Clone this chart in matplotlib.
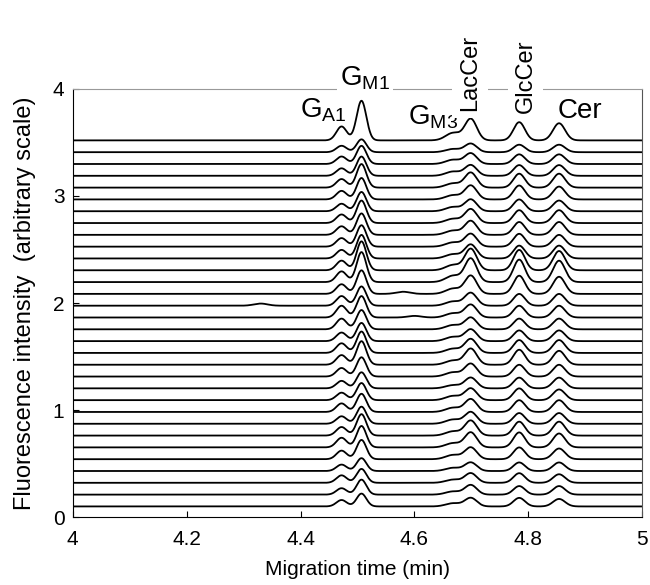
import matplotlib.pyplot as plt
import numpy as np

plt.rcParams['font.family'] = ['Liberation Sans', 'DejaVu Sans']
plt.rcParams['mathtext.fontset'] = 'custom'
plt.rcParams['mathtext.rm'] = 'Liberation Sans'
plt.rcParams['mathtext.it'] = 'Liberation Sans'

# peak centres (min): GA1, GM1, GM3, LacCer, GlcCer, Cer
peak_pos = [4.472, 4.507, 4.668, 4.699, 4.784, 4.854]
peak_sigma = [0.009, 0.0085, 0.013, 0.0105, 0.010, 0.0105]

# peak heights for each trace, bottom trace first
h_ga1 = [0.06, 0.06, 0.07, 0.06, 0.08, 0.09, 0.08, 0.07, 0.08, 0.07, 0.07,
         0.08, 0.09, 0.09, 0.08, 0.10, 0.11, 0.09, 0.09, 0.10, 0.09, 0.08,
         0.08, 0.08, 0.08, 0.07, 0.08, 0.08, 0.07, 0.07, 0.06, 0.13]
h_gm1 = [0.12, 0.14, 0.13, 0.12, 0.18, 0.20, 0.20, 0.16, 0.17, 0.16, 0.15,
         0.18, 0.22, 0.20, 0.17, 0.18, 0.20, 0.18, 0.22, 0.28, 0.27, 0.22,
         0.20, 0.20, 0.21, 0.18, 0.20, 0.22, 0.18, 0.17, 0.12, 0.37]
h_gm3 = [0.03, 0.03, 0.03, 0.03, 0.04, 0.04, 0.04, 0.04, 0.04, 0.04, 0.03,
         0.04, 0.04, 0.04, 0.04, 0.04, 0.04, 0.04, 0.05, 0.06, 0.05, 0.04,
         0.04, 0.04, 0.04, 0.04, 0.04, 0.04, 0.04, 0.04, 0.03, 0.07]
h_lac = [0.08, 0.09, 0.09, 0.08, 0.11, 0.14, 0.14, 0.11, 0.12, 0.11, 0.10,
         0.12, 0.15, 0.13, 0.11, 0.11, 0.12, 0.12, 0.17, 0.22, 0.20, 0.13,
         0.12, 0.13, 0.13, 0.11, 0.13, 0.14, 0.10, 0.10, 0.08, 0.20]
h_glc = [0.08, 0.08, 0.09, 0.08, 0.11, 0.14, 0.13, 0.10, 0.11, 0.11, 0.10,
         0.11, 0.14, 0.12, 0.10, 0.10, 0.11, 0.11, 0.17, 0.21, 0.19, 0.12,
         0.12, 0.12, 0.12, 0.11, 0.13, 0.13, 0.10, 0.09, 0.07, 0.17]
h_cer = [0.07, 0.08, 0.08, 0.08, 0.10, 0.13, 0.13, 0.10, 0.11, 0.10, 0.10,
         0.11, 0.13, 0.12, 0.10, 0.10, 0.11, 0.11, 0.16, 0.20, 0.18, 0.12,
         0.11, 0.12, 0.12, 0.10, 0.12, 0.13, 0.10, 0.09, 0.07, 0.16]

# small stray baseline bumps: trace index, time, height
bump_trace = [17, 18, 16]
bump_time = [4.33, 4.58, 4.60]
bump_height = [0.02, 0.02, 0.015]

n_traces = len(h_gm1)
base0, step = 0.10, 0.1103

fig = plt.figure(figsize=(6.5, 5.85), dpi=100)
ax = fig.add_axes([0.112, 0.116, 0.876, 0.732])

t = np.linspace(4.0, 5.0, 1500)
heights = np.array([h_ga1, h_gm1, h_gm3, h_lac, h_glc, h_cer]).T
for i in range(n_traces):
    y = np.full_like(t, base0 + i * step)
    for p, s, h in zip(peak_pos, peak_sigma, heights[i]):
        y += h * np.exp(-0.5 * ((t - p) / s) ** 2)
    for k, bt, bh in zip(bump_trace, bump_time, bump_height):
        if k == i:
            y += bh * np.exp(-0.5 * ((t - bt) / 0.012) ** 2)
    ax.plot(t, y, color='black', lw=1.3)

ax.set_xlim(4, 5)
ax.set_ylim(0, 4)
ax.set_xticks([4, 4.2, 4.4, 4.6, 4.8, 5])
ax.set_xticklabels(['4', '4.2', '4.4', '4.6', '4.8', '5'])
ax.set_yticks([0, 1, 2, 3, 4])
ax.tick_params(direction='in', length=4, labelsize=15)
ax.tick_params(axis='x', pad=9)
ax.tick_params(axis='y', pad=6)
ax.spines['top'].set_color('#999999')
ax.spines['right'].set_color('#555555')
ax.set_xlabel('Migration time (min)', fontsize=15, labelpad=8)
ax.set_ylabel('Fluorescence intensity  (arbitrary scale)', fontsize=17, labelpad=12)

box = dict(facecolor='white', edgecolor='none', pad=2)
box_r = dict(facecolor='white', edgecolor='none', pad=5)
ax.text(4.44, 3.80, r'G$_{\mathrm{A1}}$', fontsize=20, ha='center', va='center', clip_on=False)
ax.text(4.513, 4.1, r'G$_{\mathrm{M1}}$', fontsize=20, ha='center', va='center',
        bbox=box, clip_on=False)
ax.text(4.633, 3.74, r'G$_{\mathrm{M3}}$', fontsize=20, ha='center', va='center', clip_on=False)
ax.text(4.697, 4.15, 'LacCer', fontsize=17, rotation=90, ha='center', va='center',
        bbox=box_r, clip_on=False)
ax.text(4.795, 4.12, 'GlcCer', fontsize=17, rotation=90, ha='center', va='center',
        bbox=box_r, clip_on=False)
ax.text(4.89, 3.79, 'Cer', fontsize=20, ha='center', va='center', clip_on=False)

fig.savefig('out.png', dpi=100)
